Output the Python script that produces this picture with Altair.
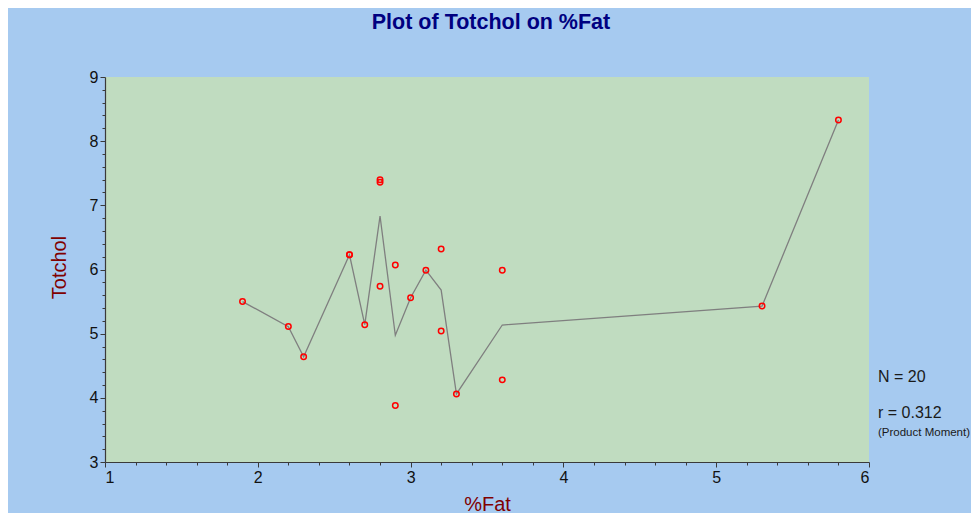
import altair as alt
import pandas as pd

# ---- data ----
fat = [1.9, 2.2, 2.3, 2.6, 2.6, 2.7, 2.8, 2.8, 2.8, 2.9,
       2.9, 3.0, 3.1, 3.2, 3.2, 3.3, 3.6, 3.6, 5.3, 5.8]
totchol = [5.50, 5.11, 4.64, 6.23, 6.23, 5.14, 7.40, 7.36, 5.74, 6.07,
           3.88, 5.56, 5.99, 6.32, 5.04, 4.06, 5.99, 4.28, 5.43, 8.33]

x_major = [1, 2, 3, 4, 5, 6]
y_major = [3, 4, 5, 6, 7, 8, 9]
minor_step = 0.2

stats_lines = ["N = 20", "r = 0.312", "(Product Moment)"]

title_text = "Plot of Totchol on %Fat"
x_title = "%Fat"
y_title = "Totchol"

# ---- derived tables ----
df = pd.DataFrame({"Fat": fat, "Totchol": totchol})

def minor_vals(lo, hi, step):
    n = int(round((hi - lo) / step))
    return [round(lo + i * step, 1) for i in range(n + 1)]

x_vals = minor_vals(x_major[0], x_major[-1], minor_step)
y_vals = minor_vals(y_major[0], y_major[-1], minor_step)

is_int = "abs(datum.value - round(datum.value)) < 1e-6"
FONT = "Liberation Sans"
AX = "#3a3a3a"

def make_axis(vals, title, orient, **kw):
    return alt.Axis(
        values=vals,
        title=title,
        orient=orient,
        grid=False,
        labelExpr=f"{is_int} ? format(datum.value, 'd') : ''",
        labelOverlap=False,
        labelFont=FONT,
        labelFontSize=16,
        labelColor="#111111",
        labelPadding=2,
        tickSize={"condition": {"test": is_int, "value": 5}, "value": 3},
        tickColor=AX,
        tickWidth=1,
        domainColor=AX,
        domainWidth=1.2,
        titleFont=FONT,
        titleFontSize=20,
        titleFontWeight="normal",
        titleColor="#800000",
        **kw,
    )

x_axis = make_axis(x_vals, x_title, "bottom",
                   titleBaseline="alphabetic", titleY=48)
y_axis = make_axis(y_vals, y_title, "left",
                   titleAngle=270, titleAlign="center", titleBaseline="middle",
                   titleX=-46, titleY=190)

x_enc = alt.X("Fat:Q", scale=alt.Scale(domain=[x_major[0], x_major[-1]], nice=False, zero=False),
              axis=x_axis)

base = alt.Chart(df)

line = base.mark_line(color="#7f7f7f", strokeWidth=1.3).encode(
    x=x_enc,
    y=alt.Y("mean(Totchol):Q",
            scale=alt.Scale(domain=[y_major[0], y_major[-1]], nice=False, zero=False),
            axis=y_axis),
)

points = base.mark_point(shape="circle", filled=False, color="#ff0000",
                         strokeWidth=1.5, size=30, opacity=1).encode(
    x=x_enc,
    y=alt.Y("Totchol:Q",
            scale=alt.Scale(domain=[y_major[0], y_major[-1]], nice=False, zero=False),
            axis=y_axis),
)

def text_layer(txt, x, y, size, color="#1a1a1a", align="left", weight="normal"):
    return alt.Chart(pd.DataFrame({"t": [txt]})).mark_text(
        align=align, baseline="alphabetic", font=FONT, fontSize=size,
        color=color, fontWeight=weight
    ).encode(text="t:N", x=alt.value(x), y=alt.value(y))

title_layer = text_layer(title_text, 386, -48, 21.5, color="#000080",
                         align="center", weight="bold")

annot = (text_layer(stats_lines[0], 773, 305, 16)
         + text_layer(stats_lines[1], 773, 341, 16)
         + text_layer(stats_lines[2], 773, 359, 11.5))

chart = alt.layer(line, points, annot, title_layer).properties(
    width=764,
    height=385,
    autosize=alt.AutoSizeParams(type="none"),
    padding={"left": 97, "top": 69, "right": 102, "bottom": 51},
    background="#A6CAF0",
).configure_view(fill="#C0DCC0", stroke=None)

chart.save("out.html", embed_options={"renderer": "svg", "actions": False})
